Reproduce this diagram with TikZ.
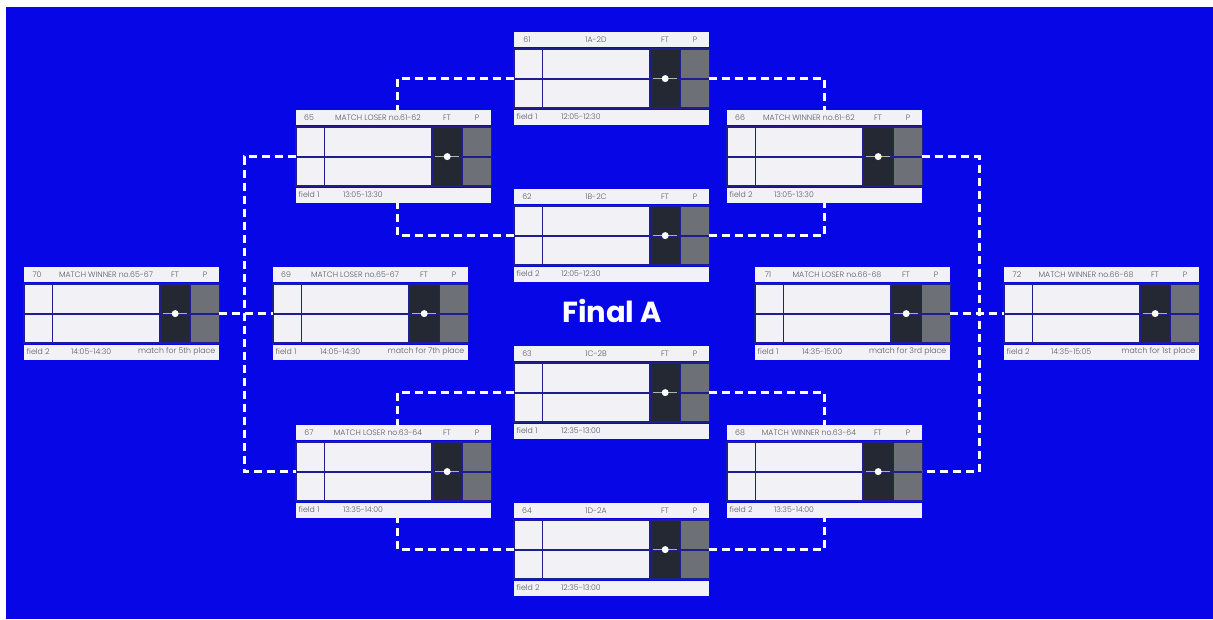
\documentclass[tikz,border=0pt]{standalone}
\usepackage{fontspec}
\setmainfont{Poppins}
\newfontfamily\lightfont{Poppins}[UprightFont={* Light}]
\usepackage{tikz}
\usetikzlibrary{positioning,calc}
\definecolor{bgblue}{RGB}{6,6,230}
\definecolor{cardbg}{RGB}{241,241,246}
\definecolor{navy}{RGB}{30,30,140}
\definecolor{ftdark}{RGB}{35,40,50}
\definecolor{pgray}{RGB}{110,112,120}
\definecolor{txtgray}{RGB}{90,90,102}

\begin{document}
\begin{tikzpicture}[x=1pt,y=-1pt]
    \tikzstyle{head}=[fill=cardbg,minimum width=195pt,minimum height=15pt,inner sep=0pt,anchor=north west]
    \tikzstyle{body}=[fill=cardbg,minimum width=195pt,minimum height=59pt,inner sep=0pt]
    \tikzstyle{foot}=[fill=cardbg,minimum width=195pt,minimum height=15pt,inner sep=0pt]
    \tikzstyle{ftcell}=[fill=ftdark,minimum width=30pt,minimum height=59pt,inner sep=0pt]
    \tikzstyle{pcell}=[fill=pgray,minimum width=29pt,minimum height=59pt,inner sep=0pt]
    \tikzstyle{grid}=[draw=navy,line width=1.8pt]
    \tikzstyle{midline}=[draw=gray!60,line width=1.2pt]
    \tikzstyle{dot}=[circle,fill=white,minimum size=7pt,inner sep=0pt]
    \tikzstyle{hd}=[text=txtgray,font=\lightfont\fontsize{7.8}{9}\selectfont,inner sep=0pt]
    \tikzstyle{link}=[draw=white,line width=3pt,dash pattern=on 8pt off 5pt]
    \tikzstyle{title}=[text=white,font=\fontsize{29}{32}\selectfont\bfseries]

    % one match card: name, left, top, no., title, field, time, place
    \def\card#1#2#3#4#5#6#7#8{
    \node[head] (#1h) at (#2,#3) {};
    \node[body, below=1.5pt of #1h] (#1b) {};
    \node[foot, below=1pt of #1b] (#1f) {};
    \node[ftcell, anchor=north west] (#1ft) at ($(#1b.north west)+(136pt,0)$) {};
    \node[pcell, anchor=north east] (#1p) at (#1b.north east) {};
    \draw[grid] (#1b.west) -- (#1b.east);
    \draw[grid] ($(#1b.north west)+(28.5pt,0)$) -- ($(#1b.south west)+(28.5pt,0)$);
    \draw[grid] (#1ft.north west) rectangle (#1ft.south east);
    \draw[grid] (#1b.north west) rectangle (#1b.south east);
    \draw[midline] ($(#1ft.west)+(3pt,0)$) -- ($(#1ft.east)+(-3pt,0)$);
    \node[dot] (#1d) at (#1ft.center) {};
    \node[hd] (#1n) at ($(#1h.west)+(13pt,0)$) {#4};
    \node[hd] (#1t) at ($(#1h.west)+(82pt,0)$) {#5};
    \node[hd] (#1x) at ($(#1h.west)+(151pt,0)$) {FT};
    \node[hd] (#1y) at ($(#1h.west)+(181pt,0)$) {P};
    \node[hd, anchor=west] (#1a) at ($(#1f.west)+(2.5pt,0)$) {#6};
    \node[hd, anchor=west] (#1c) at ($(#1f.west)+(47pt,0)$) {#7};
    \node[hd, anchor=east] (#1e) at ($(#1f.east)+(-4pt,0)$) {#8};
    }

    \useasboundingbox (0,0) rectangle (1213,619);
    \fill[white] (0,0) rectangle (1213,619);
    \fill[bgblue] (6,7) rectangle (1213,619);

    \card{c61}{514}{32}{61}{1A-2D}{field 1}{12:05-12:30}{}
    \card{c65}{296}{110}{65}{MATCH LOSER no.61-62}{field 1}{13:05-13:30}{}
    \card{c66}{727}{110}{66}{MATCH WINNER no.61-62}{field 2}{13:05-13:30}{}
    \card{c62}{514}{189}{62}{1B-2C}{field 2}{12:05-12:30}{}
    \card{c70}{24}{267}{70}{MATCH WINNER no.65-67}{field 2}{14:05-14:30}{match for 5th place}
    \card{c69}{273}{267}{69}{MATCH LOSER no.65-67}{field 1}{14:05-14:30}{match for 7th place}
    \card{c71}{755}{267}{71}{MATCH LOSER no.66-68}{field 1}{14:35-15:00}{match for 3rd place}
    \card{c72}{1004}{267}{72}{MATCH WINNER no.66-68}{field 2}{14:35-15:05}{match for 1st place}
    \card{c63}{514}{346}{63}{1C-2B}{field 1}{12:35-13:00}{}
    \card{c67}{296}{425}{67}{MATCH LOSER no.63-64}{field 1}{13:35-14:00}{}
    \card{c68}{727}{425}{68}{MATCH WINNER no.63-64}{field 2}{13:35-14:00}{}
    \card{c64}{514}{503}{64}{1D-2A}{field 2}{12:35-13:00}{}

    \node[title] (fin) at (612,311) {Final A};

    \draw[link] (c61b.west) -| ($(c65h.north)+(4pt,0)$);
    \draw[link] (c61b.east) -| (c66h.north);
    \draw[link] (c62b.west) -| ($(c65f.south)+(4pt,0)$);
    \draw[link] (c62b.east) -| (c66f.south);
    \draw[link] (c63b.west) -| ($(c67h.north)+(4pt,0)$);
    \draw[link] (c63b.east) -| (c68h.north);
    \draw[link] (c64b.west) -| ($(c67f.south)+(4pt,0)$);
    \draw[link] (c64b.east) -| (c68f.south);

    \draw[link] (c65b.west) -- ++(-52pt,0) |- (c67b.west);
    \draw[link] (c66b.east) -- ++(57pt,0) |- (c68b.east);
    \draw[link] (c70b.east) -- (c69b.west);
    \draw[link] (c71b.east) -- (c72b.west);

\end{tikzpicture}
\end{document}
